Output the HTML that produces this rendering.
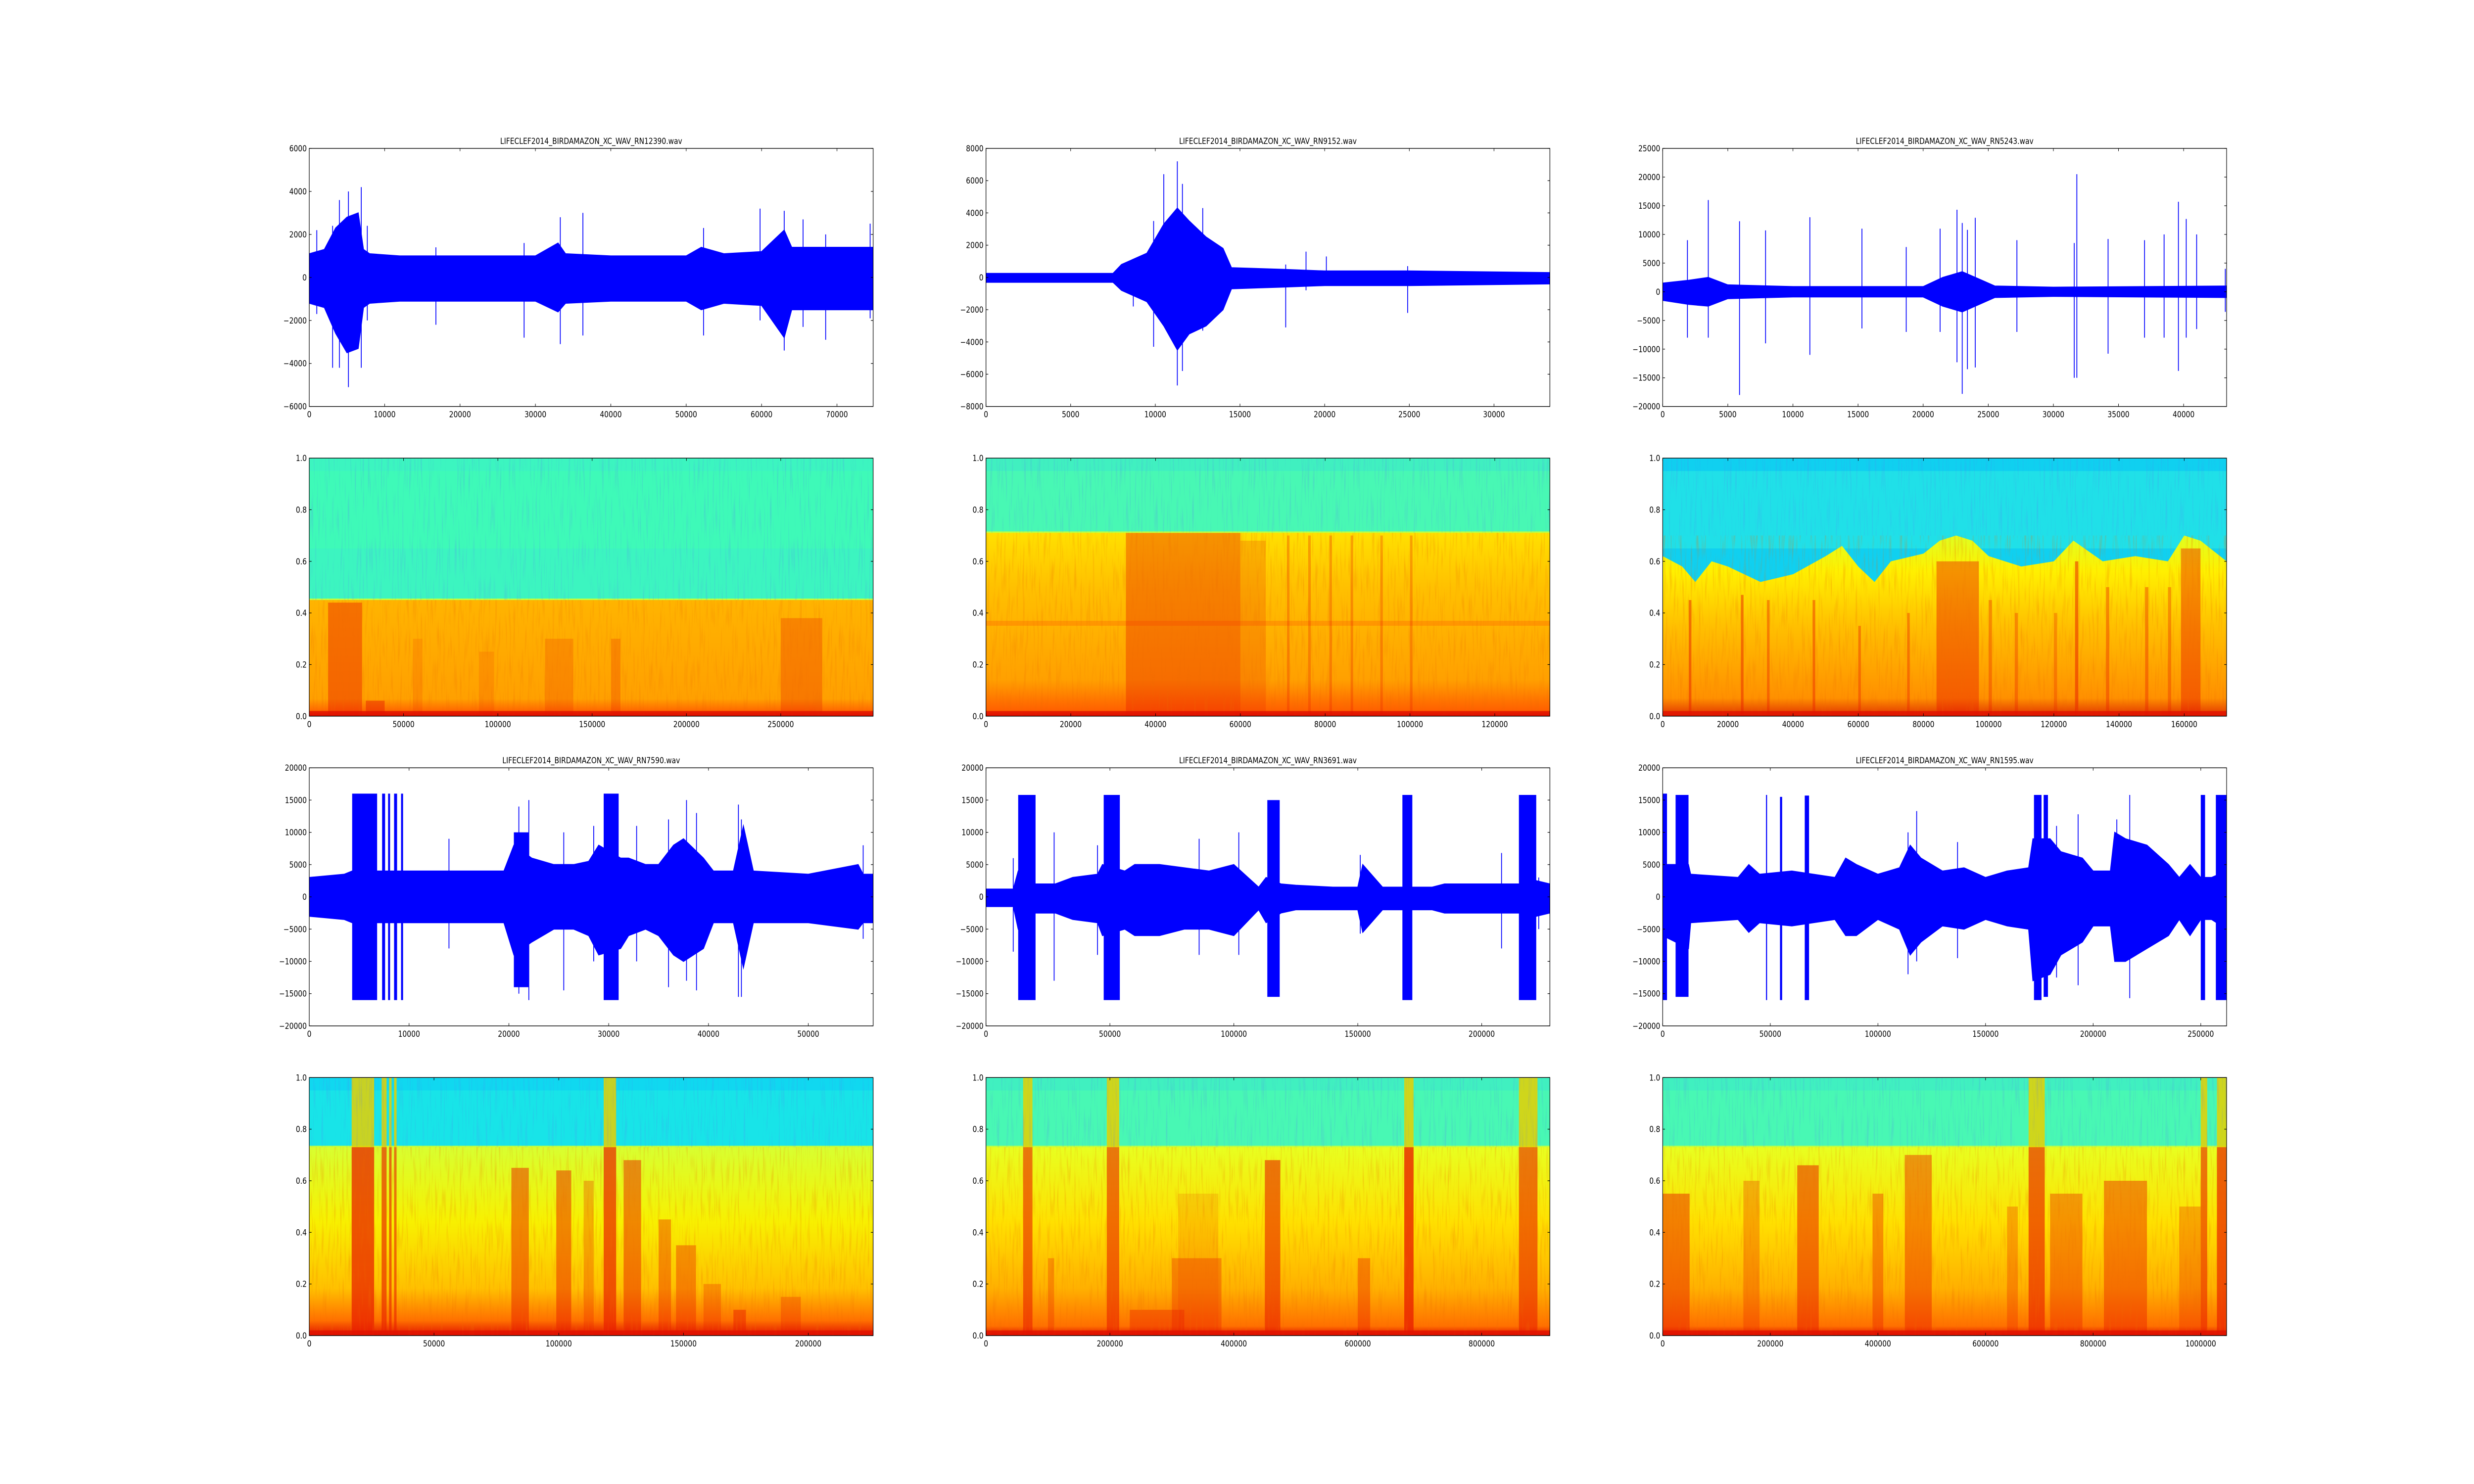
<!DOCTYPE html>
<html><head><meta charset="utf-8"><style>
html,body{margin:0;padding:0;background:#fff;width:100%;height:100%;overflow:hidden;}
svg{display:block;width:100vw;height:100vh;}
text{font-family:"DejaVu Sans","Liberation Sans",sans-serif;font-size:16.7px;fill:#000;}
</style></head><body>
<svg id="fig" xmlns="http://www.w3.org/2000/svg" viewBox="0 0 6000 3000" preserveAspectRatio="none">
<rect width="6000" height="3000" fill="#fff"/>
<defs>
<filter id="streaks" x="0" y="0" width="1" height="1">
<feTurbulence type="fractalNoise" baseFrequency="0.25 0.012" numOctaves="2" seed="3" result="n"/>
<feColorMatrix type="matrix" values="0 0 0 0 0.1  0 0 0 0 0.2  0 0 0 0 0.9  0 0 0 1.4 -0.75"/>
</filter>
<filter id="streaksWarm" x="0" y="0" width="1" height="1">
<feTurbulence type="fractalNoise" baseFrequency="0.2 0.015" numOctaves="2" seed="7" result="n"/>
<feColorMatrix type="matrix" values="0 0 0 0 0.85  0 0 0 0 0.15  0 0 0 0 0.0  0 0 0 1.6 -0.8"/>
</filter>
</defs>
</svg>
<script>
// ===== Waveform data (envelopes, bursts [x0,x1,hi,lo], spikes [x,hi,lo]) =====
const p1X=[0,2000,3500,5000,6500,7200,8000,12000,20000,30000,33000,34000,40000,50000,52000,55000,60000,63000,64000,70000,74800];
const p1Hi=[1100,1300,2300,2800,3000,1300,1100,1000,1000,1000,1600,1100,1000,1000,1400,1100,1200,2200,1400,1400,1400];
const p1Lo=[-1200,-1400,-2600,-3500,-3300,-1400,-1200,-1100,-1100,-1100,-1600,-1200,-1100,-1100,-1500,-1200,-1300,-2800,-1500,-1500,-1500];
const p1Bursts=[];
const p1Spikes=[[5200,4000,-5100],[6900,4200,-4200],[4000,3600,-4200],[3100,2400,-4200],[59800,3200,-2000],[63000,3100,-3400],[36300,3000,-2700],[33300,2800,-3100],[28500,1600,-2800],[16800,1400,-2200],[52300,2300,-2700],[65500,2700,-2300],[68500,2000,-2900],[74400,2500,-1900],[1000,2200,-1700],[7700,2400,-2000]];

const p3X=[0,7500,8000,9500,10500,11300,12000,13000,14000,14500,17500,20000,25000,33300];
const p3Hi=[250,250,800,1500,3300,4300,3500,2500,1800,600,500,400,400,300];
const p3Lo=[-300,-300,-800,-1500,-3000,-4500,-3500,-3000,-2000,-700,-600,-500,-500,-400];
const p3Bursts=[];
const p3Spikes=[[11300,7200,-6700],[10500,6400,-2000],[12800,4300,-3300],[9900,3500,-4300],[11600,5800,-5800],[17700,800,-3100],[24900,700,-2200],[18900,1600,-800],[20100,1300,-500],[8700,800,-1800]];

const p5X=[0,2000,3500,5000,10000,20000,21500,23000,24500,25500,30000,43300];
const p5Hi=[1500,2000,2500,1200,900,900,2500,3500,2000,1000,800,1000];
const p5Lo=[-1500,-2200,-2500,-1200,-900,-900,-2500,-3500,-2000,-1000,-800,-1000];
const p5Bursts=[];
const p5Spikes=[[1900,9000,-8000],[3500,16000,-8000],[5900,12300,-18000],[7900,10700,-9000],[11300,13000,-11000],[15300,11000,-6400],[18700,7800,-7000],[21300,11000,-7000],[22600,14300,-12300],[23000,12000,-17800],[23400,10800,-13500],[24000,12900,-13200],[27200,9000,-7000],[31800,20500,-15000],[31600,8500,-15000],[34200,9200,-10800],[37000,9000,-8000],[38500,10000,-8000],[39600,15700,-13800],[40200,12700,-8000],[41000,10000,-6500],[43200,4000,-3500]];

const p7X=[0,3500,4300,14000,19500,20500,22300,24500,26500,28000,29000,31200,32000,33700,35000,36500,37500,39500,40500,42500,43500,44500,50000,55000,55500,56500];
const p7Hi=[3000,3500,4000,4000,4000,8000,6000,5000,5000,5500,8000,6000,6000,5000,5000,8000,9000,6000,4000,4000,11000,4000,3500,5000,3500,3500];
const p7Lo=[-3000,-3500,-4000,-4000,-4000,-9000,-7000,-5000,-5000,-6000,-9000,-8000,-6000,-5000,-6000,-9000,-10000,-8000,-4000,-4000,-11000,-4000,-4000,-5000,-4000,-4000];
const p7Bursts=[[4300,6800,16000,-16000],[7300,7600,16000,-16000],[7900,8100,16000,-16000],[8500,8800,16000,-16000],[9200,9400,16000,-16000],[29500,31000,16000,-16000],[20500,22000,10000,-14000]];
const p7Spikes=[[21000,14000,-15000],[22000,15000,-16000],[25500,10000,-14500],[36000,12000,-14000],[37800,15000,-13000],[38800,13000,-14500],[43000,14300,-15500],[43300,12000,-15500],[55500,8000,-6500],[14000,9000,-8000],[32800,11000,-10000],[28500,11000,-10000]];

const p9X=[0,11000,13000,20000,28000,35000,45000,47000,56000,60000,70000,80000,90000,100000,110000,113000,119000,125000,140000,150000,152000,160000,168000,172000,180000,185000,200000,212000,215000,222000,227500];
const p9Hi=[1200,1200,4000,2000,2000,3000,3500,5000,4000,5000,5000,4500,4000,5000,1500,3000,2000,1800,1500,1500,5000,1500,1500,1500,1500,2000,2000,2000,2000,2500,2000];
const p9Lo=[-1500,-1500,-5000,-2500,-2500,-3500,-4000,-6000,-5000,-6000,-6000,-5000,-5000,-6000,-2000,-4000,-2500,-2000,-2000,-2000,-5500,-2000,-2000,-2000,-2000,-2500,-2500,-2500,-2500,-3000,-2500];
const p9Bursts=[[13000,20000,15800,-16000],[47500,54000,15800,-16000],[113500,118500,15000,-15500],[168000,172000,15800,-16000],[215000,222000,15800,-16000]];
const p9Spikes=[[27500,10000,-13000],[11000,6000,-8500],[45000,8000,-9000],[102000,10000,-9000],[86000,9000,-9000],[151000,6500,-5700],[208000,6800,-8000],[223000,3000,-5000]];

const p11X=[0,12000,13000,35000,40000,45000,60000,80000,85000,90000,100000,110000,115000,120000,130000,140000,150000,160000,170000,172000,180000,185000,195000,200000,208000,210000,215000,225000,235000,240000,245000,250000,255000,262000];
const p11Hi=[5000,5000,3500,3000,5000,3500,4000,3000,6000,5000,3500,4500,8000,6000,4000,4500,3000,4000,4500,9000,9000,7000,6000,4000,4000,10000,9000,8000,5000,3000,5000,3000,3000,4000];
const p11Lo=[-6000,-8000,-4000,-3500,-5500,-4000,-4500,-3500,-6000,-6000,-3500,-5000,-9000,-7000,-4500,-5000,-3500,-4500,-5000,-13000,-12000,-9000,-7000,-4500,-4500,-10000,-10000,-8000,-6000,-3500,-6000,-3500,-3500,-5000];
const p11Bursts=[[0,2000,16000,-16000],[6000,12000,15800,-15500],[48000,48500,15800,-16000],[54500,55500,15500,-16000],[66000,68000,15700,-16000],[172500,176000,15800,-16000],[177000,179000,15800,-15500],[250000,252000,15800,-16000],[257000,262000,15800,-16000]];
const p11Spikes=[[118000,13300,-10000],[114000,10000,-12000],[193000,12800,-13700],[217000,15800,-15700],[183000,11000,-12500],[211000,12000,-9000],[137000,8500,-9500]];

// ===== Spectrogram data: cutoff, events [x0,x1,yTop,strength] =====
const s2Cut=0.45;
const s2Events=[[10000,28000,0.44,0.45],[250000,272000,0.38,0.3],[125000,140000,0.3,0.2],[160000,165000,0.3,0.25],[55000,60000,0.3,0.15],[90000,98000,0.25,0.15],[30000,40000,0.06,0.5]];
const s4Cut=0.71;
const s4Events=[[33000,60000,0.71,0.4],[60000,66000,0.68,0.2],[71000,71600,0.7,0.3],[76000,76600,0.7,0.3],[81000,81600,0.7,0.3],[86000,86600,0.7,0.3],[93000,93600,0.7,0.3],[100000,100600,0.7,0.3]];
const s4Lines=[0.36];
const s6EdgeX=[0,6000,10000,15000,20000,25000,30000,40000,50000,55000,60000,65000,70000,80000,85000,90000,95000,100000,110000,120000,126000,135000,145000,155000,160000,165000,173000];
const s6Edge=[0.62,0.58,0.52,0.6,0.58,0.55,0.52,0.55,0.62,0.66,0.58,0.52,0.6,0.63,0.68,0.7,0.68,0.62,0.58,0.6,0.68,0.6,0.62,0.6,0.7,0.68,0.6];
const s6Events=[[8000,8800,0.45,0.5],[24000,24800,0.47,0.5],[32000,32800,0.45,0.4],[46000,46800,0.45,0.45],[60000,60800,0.35,0.4],[75000,75800,0.4,0.4],[84000,97000,0.6,0.45],[100000,101000,0.45,0.35],[108000,109000,0.4,0.35],[120000,121000,0.4,0.3],[126500,127500,0.6,0.55],[136000,137000,0.5,0.4],[148000,149000,0.5,0.4],[155000,156000,0.5,0.35],[159000,165000,0.65,0.45]];
const s8Cut=0.73;
const s8Events=[[17000,26000,1.0,0.75],[29000,31000,1.0,0.65],[32000,33000,1.0,0.65],[34000,35000,1.0,0.6],[81000,88000,0.65,0.5],[99000,105000,0.64,0.5],[110000,114000,0.6,0.3],[118000,123000,1.0,0.7],[126000,133000,0.68,0.5],[140000,145000,0.45,0.4],[147000,155000,0.35,0.4],[158000,165000,0.2,0.3],[170000,175000,0.1,0.5],[189000,197000,0.15,0.3]];
const s10Cut=0.73;
const s10Events=[[60000,75000,1.0,0.6],[195000,215000,1.0,0.6],[232000,320000,0.1,0.4],[300000,380000,0.3,0.35],[310000,375000,0.55,0.15],[450000,475000,0.68,0.6],[600000,620000,0.3,0.4],[675000,690000,1.0,0.8],[860000,890000,1.0,0.6],[100000,110000,0.3,0.3]];
const s12Cut=0.73;
const s12Events=[[0,50000,0.55,0.5],[150000,180000,0.6,0.3],[250000,290000,0.66,0.55],[390000,410000,0.55,0.4],[450000,500000,0.7,0.45],[640000,660000,0.5,0.3],[680000,710000,1.0,0.65],[720000,780000,0.55,0.4],[820000,900000,0.6,0.45],[960000,1000000,0.5,0.3],[1000000,1012000,1.0,0.6],[1030000,1048000,1.0,0.7]];

// ===== Layout =====
const NS="http://www.w3.org/2000/svg";
const svg=document.getElementById('fig');
const COLX=[750,2391.2,4032.4], ROWY=[300,926.1,1552.2,2178.3], W=1367.6, H=521.7;
function el(tag,attrs,parent){const e=document.createElementNS(NS,tag);for(const k in attrs)e.setAttribute(k,attrs[k]);(parent||svg).appendChild(e);return e;}
function fmt(v,dec){const a=Math.abs(v);const t=dec?a.toFixed(1):String(Math.round(a));return (v<0?'\u2212':'')+t;}

const waves=[
 {c:0,r:0,title:'LIFECLEF2014_BIRDAMAZON_XC_WAV_RN12390.wav',xmax:74800,ymin:-6000,ymax:6000,xt:[0,10000,20000,30000,40000,50000,60000,70000],yt:[-6000,-4000,-2000,0,2000,4000,6000],X:p1X,Hi:p1Hi,Lo:p1Lo,B:p1Bursts,S:p1Spikes},
 {c:1,r:0,title:'LIFECLEF2014_BIRDAMAZON_XC_WAV_RN9152.wav',xmax:33300,ymin:-8000,ymax:8000,xt:[0,5000,10000,15000,20000,25000,30000],yt:[-8000,-6000,-4000,-2000,0,2000,4000,6000,8000],X:p3X,Hi:p3Hi,Lo:p3Lo,B:p3Bursts,S:p3Spikes},
 {c:2,r:0,title:'LIFECLEF2014_BIRDAMAZON_XC_WAV_RN5243.wav',xmax:43300,ymin:-20000,ymax:25000,xt:[0,5000,10000,15000,20000,25000,30000,35000,40000],yt:[-20000,-15000,-10000,-5000,0,5000,10000,15000,20000,25000],X:p5X,Hi:p5Hi,Lo:p5Lo,B:p5Bursts,S:p5Spikes},
 {c:0,r:2,title:'LIFECLEF2014_BIRDAMAZON_XC_WAV_RN7590.wav',xmax:56500,ymin:-20000,ymax:20000,xt:[0,10000,20000,30000,40000,50000],yt:[-20000,-15000,-10000,-5000,0,5000,10000,15000,20000],X:p7X,Hi:p7Hi,Lo:p7Lo,B:p7Bursts,S:p7Spikes},
 {c:1,r:2,title:'LIFECLEF2014_BIRDAMAZON_XC_WAV_RN3691.wav',xmax:227500,ymin:-20000,ymax:20000,xt:[0,50000,100000,150000,200000],yt:[-20000,-15000,-10000,-5000,0,5000,10000,15000,20000],X:p9X,Hi:p9Hi,Lo:p9Lo,B:p9Bursts,S:p9Spikes},
 {c:2,r:2,title:'LIFECLEF2014_BIRDAMAZON_XC_WAV_RN1595.wav',xmax:262000,ymin:-20000,ymax:20000,xt:[0,50000,100000,150000,200000,250000],yt:[-20000,-15000,-10000,-5000,0,5000,10000,15000,20000],X:p11X,Hi:p11Hi,Lo:p11Lo,B:p11Bursts,S:p11Spikes}
];
const specs=[
 {c:0,r:1,xmax:299000,xt:[0,50000,100000,150000,200000,250000],cut:s2Cut,E:s2Events,top:['#3cf5c0','#40ffb0'],low:[['0','#ffb400'],['0.85','#ffa000'],['0.95','#ff6a00'],['1','#e01000']]},
 {c:1,r:1,xmax:133000,xt:[0,20000,40000,60000,80000,100000,120000],cut:s4Cut,E:s4Events,lines:s4Lines,top:['#40f0c0','#50ffa8'],low:[['0','#ffe000'],['0.3','#ffc000'],['0.8','#ffa000'],['0.97','#ff6000'],['1','#e01000']]},
 {c:2,r:1,xmax:173000,xt:[0,20000,40000,60000,80000,100000,120000,140000,160000],edgeX:s6EdgeX,edge:s6Edge,E:s6Events,top:['#10d0f0','#30f0e0'],low:[['0','#e0ff20'],['0.2','#fff000'],['0.5','#ffc000'],['0.9','#ff9000'],['1','#e03000']]},
 {c:0,r:3,xmax:226000,xt:[0,50000,100000,150000,200000],cut:s8Cut,E:s8Events,top:['#10d8f0','#20f0e0'],low:[['0','#d8ff30'],['0.4','#f8f000'],['0.75','#ffc000'],['0.92','#ff7000'],['1','#e01000']]},
 {c:1,r:3,xmax:910000,xt:[0,200000,400000,600000,800000],cut:s10Cut,E:s10Events,top:['#40f0c0','#50ffa8'],low:[['0','#e8ff20'],['0.4','#ffe000'],['0.75','#ffb000'],['0.95','#ff7000'],['1','#e01000']]},
 {c:2,r:3,xmax:1048000,xt:[0,200000,400000,600000,800000,1000000],cut:s12Cut,E:s12Events,top:['#40f0c0','#50ffa8'],low:[['0','#e8ff20'],['0.4','#ffe000'],['0.75','#ffb000'],['0.95','#ff7000'],['1','#e01000']]}
];

const defs=svg.querySelector('defs');
function axesFrame(g,x0,y0,xt,yt,sx,sy,ydec){
  el('rect',{x:x0,y:y0,width:W,height:H,fill:'none',stroke:'#000','stroke-width':1.4},g);
  xt.forEach(v=>{const x=sx(v);
    el('line',{x1:x,x2:x,y1:y0+H,y2:y0+H-5.6,stroke:'#000','stroke-width':1.2},g);
    el('line',{x1:x,x2:x,y1:y0,y2:y0+5.6,stroke:'#000','stroke-width':1.2},g);
    const t=el('text',{x:x,y:y0+H+22,'text-anchor':'middle'},g);t.textContent=fmt(v,false);
    
    
  });
  yt.forEach(v=>{const y=sy(v);
    el('line',{x1:x0,x2:x0+5.6,y1:y,y2:y,stroke:'#000','stroke-width':1.2},g);
    el('line',{x1:x0+W,x2:x0+W-5.6,y1:y,y2:y,stroke:'#000','stroke-width':1.2},g);
    const t=el('text',{x:x0-6,y:y+6,'text-anchor':'end'},g);t.textContent=fmt(v,ydec);
    
    
  });
}

waves.forEach((p,i)=>{
  const x0=COLX[p.c], y0=ROWY[p.r];
  const sx=v=>x0+v/p.xmax*W, sy=v=>y0+(p.ymax-v)/(p.ymax-p.ymin)*H;
  const g=el('g',{});
  
  
  const cid='wc'+i;
  const cp=el('clipPath',{id:cid},defs);el('rect',{x:x0,y:y0,width:W,height:H},cp);
  const d=el('g',{'clip-path':'url(#'+cid+')'},g);
  let pts=p.X.map((x,k)=>sx(x).toFixed(1)+','+sy(p.Hi[k]).toFixed(1));
  for(let k=p.X.length-1;k>=0;k--)pts.push(sx(p.X[k]).toFixed(1)+','+sy(p.Lo[k]).toFixed(1));
  const body=el('polygon',{points:pts.join(' '),fill:'#0000ff',stroke:'#0000ff','stroke-width':2},d);
  
  
  p.B.forEach(b=>{const r=el('rect',{x:sx(b[0]),y:sy(b[2]),width:Math.max(2,sx(b[1])-sx(b[0])),height:sy(b[3])-sy(b[2]),fill:'#0000ff'},d);
    
    });
  p.S.forEach(s=>{const l=el('line',{x1:sx(s[0]),x2:sx(s[0]),y1:sy(s[1]),y2:sy(s[2]),stroke:'#0000ff','stroke-width':2},d);
    
    });
  axesFrame(g,x0,y0,p.xt,p.yt,sx,sy,false);
  const t=el('text',{x:x0+W/2,y:y0-9,'text-anchor':'middle'},g);t.textContent=p.title;
  
  
});

specs.forEach((p,i)=>{
  const x0=COLX[p.c], y0=ROWY[p.r];
  const sx=v=>x0+v/p.xmax*W, sy=v=>y0+(1-v)*H;
  const g=el('g',{});
  
  
  const cid='sc'+i;
  const cp=el('clipPath',{id:cid},defs);el('rect',{x:x0,y:y0,width:W,height:H},cp);
  const d=el('g',{'clip-path':'url(#'+cid+')'},g);
  el('rect',{x:x0,y:y0,width:W,height:H,fill:p.top[0]},d);
  el('rect',{x:x0,y:y0+H*0.05,width:W,height:H*0.3,fill:p.top[1],opacity:0.5},d);
  const cutTop=p.cut!==undefined?p.cut:0.7;
  const gid='sg'+i;
  const lg=el('linearGradient',{id:gid,x1:0,y1:0,x2:0,y2:1},defs);
  p.low.forEach(s=>el('stop',{offset:s[0],'stop-color':s[1]},lg));
  if(p.edgeX){
    let pts=p.edgeX.map((x,k)=>sx(x).toFixed(1)+','+sy(p.edge[k]).toFixed(1));
    pts.push(sx(p.xmax)+','+sy(0),x0+','+sy(0));
    const lgp=el('linearGradient',{id:gid+'b',gradientUnits:'userSpaceOnUse',x1:0,y1:sy(0.7),x2:0,y2:sy(0)},defs);
    p.low.forEach(s=>el('stop',{offset:s[0],'stop-color':s[1]},lgp));
    const b=el('polygon',{points:pts.join(' '),fill:'url(#'+gid+'b)'},d);
    
    
  } else {
    el('rect',{x:x0,y:sy(p.cut)-3,width:W,height:6,fill:'#c0ff40'},d);
    const b=el('rect',{x:x0,y:sy(p.cut),width:W,height:sy(0)-sy(p.cut),fill:'url(#'+gid+')'},d);
    
    
  }
  (p.lines||[]).forEach(v=>el('rect',{x:x0,y:sy(v)-5,width:W,height:10,fill:'#ff8a00',opacity:0.7},d));
  p.E.forEach(e=>{
    const yt=Math.min(e[2],cutTop);
    if(e[2]>cutTop+0.01){const r=el('rect',{x:sx(e[0]),y:sy(1),width:Math.max(3,sx(e[1])-sx(e[0])),height:sy(cutTop)-sy(1),fill:'#e8d000',opacity:0.85},d);
      
      }
    const r=el('rect',{x:sx(e[0]),y:sy(yt),width:Math.max(3,sx(e[1])-sx(e[0])),height:sy(0)-sy(yt),fill:'#e82000',opacity:e[3]},d);
    
    
  });
  // texture overlays (styling only)
  el('rect',{x:x0,y:y0,width:W,height:sy(cutTop)-y0,filter:'url(#streaks)',opacity:0.5},d);
  el('rect',{x:x0,y:sy(cutTop),width:W,height:sy(0)-sy(cutTop),filter:'url(#streaksWarm)',opacity:0.45},d);
  el('rect',{x:x0,y:sy(0.02),width:W,height:sy(0)-sy(0.02),fill:'#e01000',opacity:0.8},d);
  axesFrame(g,x0,y0,p.xt,[0,0.2,0.4,0.6,0.8,1.0],sx,sy,true);
});
</script>
</body></html>
